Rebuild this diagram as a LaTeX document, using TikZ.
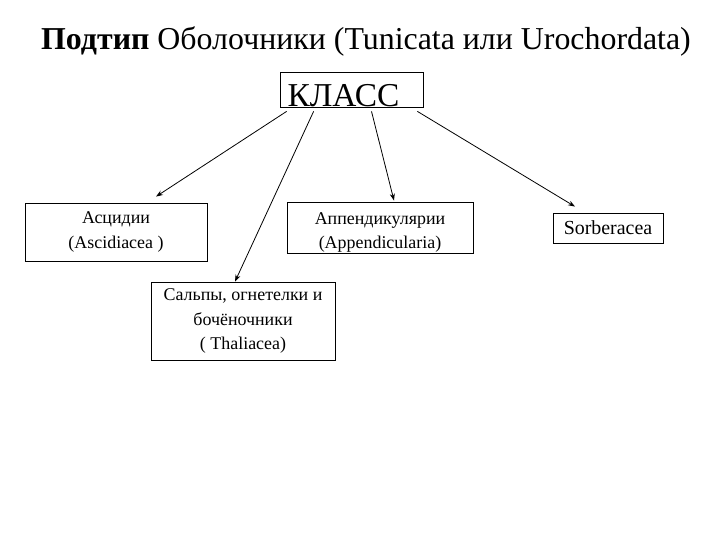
\documentclass[tikz,border=0pt]{standalone}
\usepackage{fontspec}
\setmainfont{Liberation Serif}
\usepackage{tikz}
\usetikzlibrary{arrows.meta,positioning}

\begin{document}
\begin{tikzpicture}[
    x=1bp, y=-1bp,
    box/.style={draw, line width=0.8bp, inner sep=0pt, align=center, font=\fontsize{18}{24.5}\selectfont},
    arr/.style={-{Stealth[length=7bp, width=5bp]}, line width=0.8bp}
]
\useasboundingbox (0,0) rectangle (720,540);

\node[font=\fontsize{32}{34}\selectfont] (title) at (366,41) {\textbf{Подтип} Оболочники (Tunicata или Urochordata)};

\node[box, minimum width=143bp, text height=35bp, text depth=0pt, font=\fontsize{33.5}{35}\selectfont] (klass) at (351.5,89.5) {КЛАСС\hspace{16bp}};

\node[box, minimum width=182bp, minimum height=58bp] (asc) at (116,232) {Асцидии\\(Ascidiacea )};
\node[box, minimum width=186bp, minimum height=51bp, text depth=0pt] (app) at (380,227.5) {\rule{0pt}{18bp}Аппендикулярии\\(Appendicularia)};
\node[box, minimum width=110bp, minimum height=30bp, font=\fontsize{20}{24}\selectfont] (sorb) at (608,228) {Sorberacea};
\node[box, minimum width=184bp, minimum height=78bp] (thal) at (243,321) {Сальпы, огнетелки и\\бочёночники\\( Thaliacea)};

\draw[arr] ([xshift=7bp, yshift=-4bp]klass.south west) -- ([xshift=40bp, yshift=6bp]asc.north);
\draw[arr] ([xshift=34bp, yshift=-4bp]klass.south west) -- ([xshift=-8bp]thal.north);
\draw[arr] ([xshift=20bp, yshift=-4bp]klass.south) -- ([xshift=14bp, yshift=1bp]app.north);
\draw[arr] ([xshift=-6bp, yshift=-4bp]klass.south east) -- ([xshift=-33bp, yshift=6bp]sorb.north);
\end{tikzpicture}
\end{document}
